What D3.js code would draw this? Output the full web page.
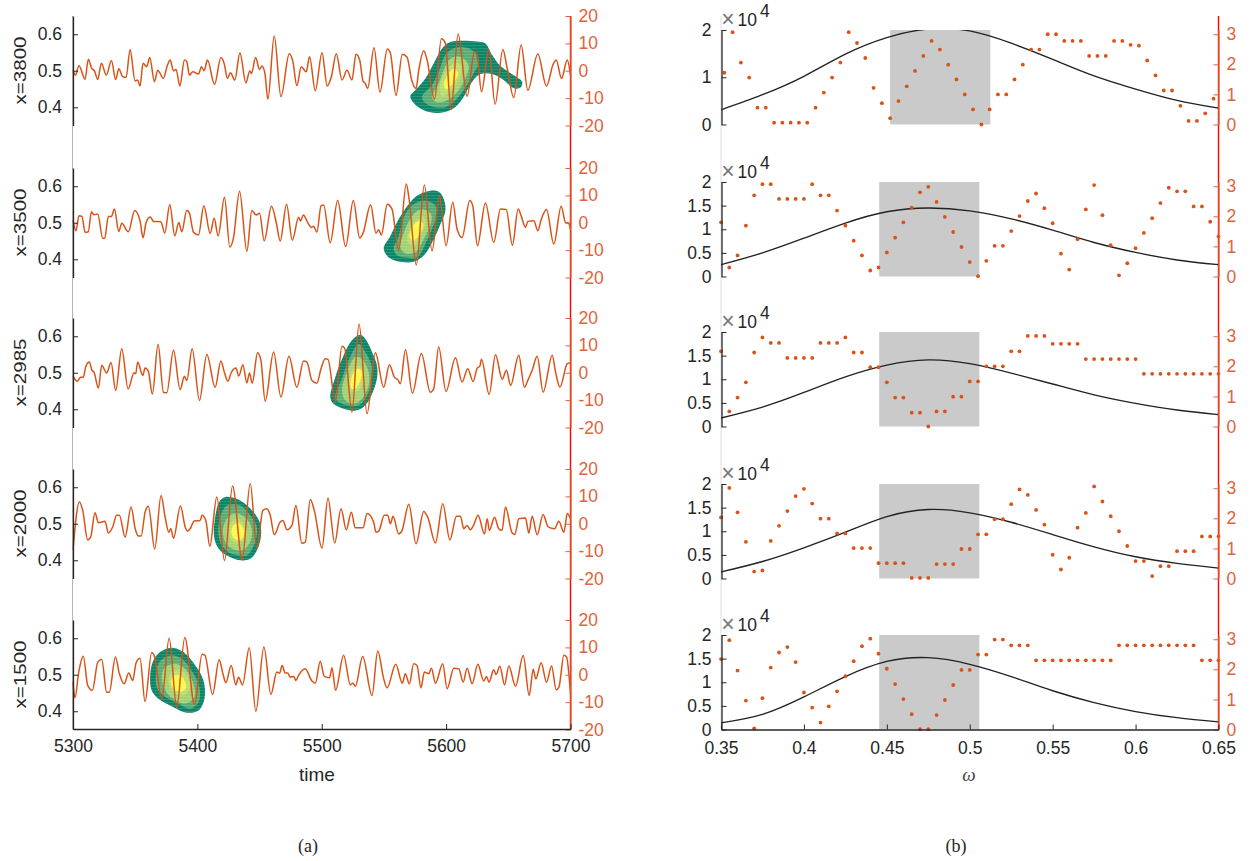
<!DOCTYPE html>
<html><head><meta charset="utf-8">
<script src="https://cdn.jsdelivr.net/npm/d3@7/dist/d3.min.js"></script>
<style>
html,body{margin:0;padding:0;background:#fff}
svg{display:block}
text{font-family:"Liberation Sans",Arial,sans-serif}
</style></head><body>
<svg id="chart" width="1258" height="861"></svg>
<script>
// ---------- (a) signal: time offset from 5300, amplitude ----------
const startTime = 5300;
const sensorLabels = ["x=3800","x=3500","x=2985","x=2000","x=1500"];
const times3800 = [0,1.9,4.8,9.7,12.3,15,17.2,19.9,22.8,26.8,30.9,34.3,36.8,40,42.7,45.9,49.9,52,53.9,56.3,59.3,61.7,65.5,68.1,72.7,75.7,78.1,80.8,82.9,85.9,89.6,91.5,93.6,96.3,100.9,103.3,105.4,108.1,113.8,118.9,121.5,124.2,126.6,130.1,134.2,139,142.2,143.5,146.8,150,151.9,154.3,156.7,161.8,167.2,173.9,176.8,180,183.5,187.5,190.2,194.8,200.2,204.4,207.7,211.7,216.3,220.3,224.3,227.5,230.5,233.2,235,236.9,242,246.8,252.7,255.2,259.7,264.8,268.6,272.3,275.8,278,282,284.7,290.6,296.2,299.4,304,309.6,316.9,322.8,324.9,328.4,334.3,339.4,345.6,349.1,354.4,360.3,365.7,373.7,380.7,386.1,388.5,392.8,397.4,400];
const amps3800 = [0.2,-1.6,1.8,-3.1,4.2,0.9,0,-3.2,2.7,-1.6,3.7,-3.2,0.7,-2.2,-2.4,7.8,-3.7,-3.4,-5.6,2.7,1.5,4.8,-4,0.2,-2.8,1.7,3.9,0,0.5,-5.6,3.9,3.3,-1.6,-0.4,-1.2,1.5,0,3.9,-5,4.8,2.7,-2.8,-0.7,-3.4,6.6,-4.4,0,-1,4.8,0.5,1.7,-1,-10.4,12.7,-9.5,6.2,3.3,-5.5,1.5,-0.4,5.1,-7.3,6.6,-5.6,-2.2,6.2,-3.4,0.2,-3.4,6,3.9,-3.8,-4.6,-6.5,8.4,-7.8,7.9,6.4,-9,6,4.9,-3.4,-6.5,0.2,7.3,3.9,-10.4,11.7,10,-14.2,13.4,-9.3,7,5.7,-7.7,7.8,-12.2,7.8,0.9,-9.8,9.4,-7.1,6.1,-5.6,2.4,3.9,-2.8,3.9,-1.6];
const times3500 = [0,2.4,4.8,7.2,9.7,12.3,14.8,16.9,19.9,23.9,25.5,28.4,30.9,33.3,36.8,39.2,44.5,49.6,53.9,56.3,58.8,62.2,64.7,70.6,73.8,77.8,81.8,85.1,87.5,91.5,93.6,96.9,100.9,105.2,110.3,113.5,116.7,121.8,126.1,129,133.9,139.8,143.8,147.3,150,153.7,159.6,163.4,166.6,171.7,176.3,181.4,183,185.1,189.4,191.6,193.5,196.1,199.4,201.5,206.8,212.8,219.2,225.4,230.5,233.2,239.3,243.6,245.8,247.9,252.7,256.5,261.8,268,270.2,276,282.5,288.7,294.6,300,305.3,308.8,312.8,319,321.4,325.2,331.6,338.3,343.7,348.3,353.3,357.9,360.3,363.8,365.7,370.5,373.7,376.4,380.7,386.6,392.5,396,398.4,400];
const amps3500 = [1,-2.9,2.6,2.3,-3.5,-3.3,4,2.9,3.2,-5.7,-5.7,2.3,2.3,5,-3.2,-0.2,-3.3,4.5,0.7,-5.5,0.1,2.1,0.5,0.4,-3.8,6.7,-4.8,0.1,-3.3,4.6,3.5,-3.5,-4.5,6.2,-3.9,1.6,-4.8,9.3,-8.9,-5.6,11.5,-10.4,4.5,2.8,3.5,-6.6,6,0.1,-6.7,6.8,-6.4,2,0.6,2.8,-0.5,-1.7,-1.3,-3.5,6.2,6.5,-7.3,8.1,-8.7,8.1,-5.6,-3.8,6.6,-3.8,-2.6,-4.5,6.8,5,-10,14.2,8.7,-15.4,13.8,-10.3,9.9,-8.4,7.5,-2.3,-5.4,8.1,6.2,-8.4,7.2,-7.2,5,4.8,-8.2,5,2.6,-1.7,0.5,0.7,-2.9,1.1,4.8,-7.8,6,0.1,-0.1,-2.6];
const times2985 = [0,3.5,6.2,8.3,10.2,13.1,15.3,16.9,20.4,23.1,27.1,30.6,34.3,39.2,44.3,49.1,50.4,52,56.1,57.9,60.6,63.8,68.4,72.7,75.4,80.8,86.1,89.6,91.5,95.8,101.7,107.6,114.3,118.9,121.5,124.5,127.2,131,133.3,136.6,139.8,141.9,144.1,148.4,151.1,154.5,161.3,167.2,173.6,180,185.4,188.1,192.1,196.1,199.4,202.8,205,210.9,216.3,218.4,224.3,230,236.4,243.1,249.8,254.4,258.4,261.3,263.2,267.3,272.9,280.1,287.3,290,294,299.9,307.5,312.8,317.4,321.7,325,327.1,328.4,334.6,339.7,345.1,348.5,351.8,358.4,363,365.7,369.2,373.2,378,385.3,388,391.5,397.4,400];
const amps2985 = [-1.2,-3.1,-1.6,-1.6,2.1,3.9,0.9,0.2,-5.6,2.7,-0.1,3.7,-6.5,8.8,-5.9,0,-0.4,3.9,-1,1.7,0.5,-7.8,10.4,-7.1,-7.3,8.2,-6.2,-1.3,-2.8,8.8,-10.1,6.7,-5.3,4.3,0.5,-3.1,0,1.7,-1.2,2.9,-3.7,-0.1,-3.8,7.3,4.5,-10.4,7.6,-8.9,6,-5.3,4.3,3.9,-2.8,-3.8,1.5,5.1,4.9,-10.5,9.7,9,-14.4,17.8,-15,7.3,-5.3,2.9,-1.6,-2.6,-4,8.4,-7.5,7,-7.1,-5.9,9.4,-6.8,5.5,-3.4,1.5,-3.2,1.7,2.4,4.9,-7.9,6.6,-2.4,0.9,-4.6,6.4,-5.3,-2.8,0.9,6,-7.1,6.4,0.2,-5.3,3.3,3.7];
const times2000 = [0,5.1,7.8,11.8,14.2,17.7,20.4,25.8,28.4,31.9,35.1,37.3,41.9,46.7,50,52.6,54.8,58,60.6,65.7,70.8,74.1,77,78.6,80.8,86.4,90.2,92.1,94.2,97.4,102.2,103.8,106.8,110,115.6,121.8,128.3,136,142.5,147.8,152.7,155.9,158.6,161.8,166.6,168.8,172,176,179.2,184,186.7,190.8,194,200.2,205,210.4,215.5,219.7,223.8,227,233.2,236.4,241.7,243.6,245.8,250.3,253,255.2,257.3,261.9,264.6,270,275.8,282,285.2,291.4,297.3,303,308.3,311.5,314.2,316.9,319.5,322.2,325.7,330.8,333,334.8,338.9,342.3,345,347.7,353.1,355.2,358.5,363.8,366.5,369.2,373.2,378,381.8,384,387.2,390.6,394.7,397.4,400];
const amps2000 = [-9.5,7.9,4.9,-5.9,-4.9,4,0.4,0.9,-3.4,-1.2,3.1,3.1,-4.9,6.1,-1.8,-4.5,-4.5,4.3,6.4,-9.2,10.3,2.4,-3.1,-1.8,-5.3,6.5,-1.2,-2.7,-1.8,1,1.2,3.1,1.2,-8.2,9.8,-13.4,13.8,-13.2,14.7,-8.8,4.9,5.5,3.1,-4,0.6,1.2,-2.2,-0.6,6.7,-7.1,-6.7,8.9,4.9,-8.9,9.4,-7,5.5,-2.2,4.2,-1.5,-1.5,3.7,0.6,-3.1,-2.7,3.1,3.1,0,2.7,-3.7,-2.4,7.1,-7.3,4.5,2.4,-7,7.3,-5.9,2.7,2.7,-1.8,-0.6,-2.2,-0.4,3.1,-3.7,1.8,-2.4,2.4,-1.8,-2.4,6.1,-3.4,-3.9,1.8,2.1,-3.4,2.7,-4,3.4,-1,-1.5,-1.8,0.9,-3.1,3.7,1.8];
const times1500 = [0,1.6,4.6,8.3,11.8,15.6,19.9,23.1,27.1,29.2,34.1,37.3,41.1,44.8,48,50.7,53.9,57.9,63.3,65.2,71.4,77.3,83.4,89.9,97.7,103.8,106,112.2,117.5,120.5,122.9,127.2,130.9,133.1,136.3,141.7,147,153.5,159.1,163.9,166.1,168.2,170.6,172.7,174.7,177.6,179.2,181.4,186.7,192.1,194.8,198.8,202,206.3,208.2,211.1,217.6,223,225.1,227,232.9,240.4,245,249.8,252.5,259.5,264.8,267.2,270.4,273.9,276.6,279.8,282.5,286,288.2,291.4,297.3,300.8,306.2,310.2,313.7,316.9,320.9,325.5,330.2,332.4,334.5,338.3,340.2,343.2,347,350.4,355.8,362,366.8,370,372.1,376.4,380.7,384.8,388.5,390.7,394.7,396.8,400];
const amps1500 = [-2.7,-8.4,1,6.8,-3.9,-5.7,4.6,5.6,-6.4,-6.4,6.5,0.4,-3.3,0.6,-2.1,4.3,6,-9.8,8.1,7.1,-8.8,13.3,-11.9,13.6,-10.9,7.5,7.2,-7.2,5.5,0.4,-2.9,3.4,-3.7,-0.9,-3.7,9.9,-13.3,10.1,-7.2,1,0.6,3.4,0.6,0.6,-0.9,-0.6,-2.1,-0.2,2.2,-2.3,-3.1,4.9,-0.6,-1.1,2.6,-5.7,7.1,-3.7,-3.1,-4.2,6.7,-7.6,8.7,-1.5,-4.8,3.8,-3.1,0.4,-3.3,4,3.4,-4.8,1,0.4,2.4,-3.1,4,-5.1,2.4,2.2,-2.7,2.4,-3.3,3.8,-2.3,-0.6,-2.7,1.8,0.1,3.1,-3.7,3.2,-4.2,7,-7.6,2,-1.5,4.4,-2.7,3.2,-5.5,-4.5,7.1,6.5,-7];
const signalTimes = [times3800,times3500,times2985,times2000,times1500];
const signalAmps = [amps3800,amps3500,amps2985,amps2000,amps1500];

// ---------- (a) ridge contours: [time offset, frequency], outermost level first ----------
const ridge3800 = [
[[271.2,.429],[275.3,.447],[283.3,.479],[290,.52],[296.7,.561],[302.1,.577],[310.1,.582],[324.9,.58],[331.6,.575],[337,.543],[343.7,.513],[354.4,.488],[361.1,.47],[359.8,.454],[354.4,.452],[346.4,.474],[337,.491],[327.6,.491],[320.9,.47],[314.2,.429],[307.5,.401],[298.1,.386],[287.3,.386],[276.6,.403]],
[[280.6,.429],[288.7,.461],[294,.497],[299.4,.543],[306.1,.561],[316.9,.563],[324.9,.543],[326.2,.52],[322.2,.493],[316.9,.461],[308.8,.424],[299.4,.4],[290,.401],[283.3,.411]],
[[288.7,.429],[294,.465],[298,.502],[302.1,.529],[308.8,.54],[315.5,.529],[318.2,.511],[314.2,.47],[307.5,.436],[298.1,.415],[291.4,.415]],
[[294.9,.456],[299.4,.497],[306.1,.52],[312,.516],[311.5,.484],[304.8,.447],[296.7,.429]],
[[298.1,.461],[302.1,.493],[306.7,.506],[309.6,.491],[304.8,.463],[300.2,.449]]];
const ridge3500 = [
[[249.8,.43],[255.2,.464],[261.9,.51],[269.9,.551],[276.6,.574],[287.3,.588],[294.1,.585],[298.1,.565],[299.4,.533],[295.4,.496],[288.7,.446],[282,.41],[273.9,.393],[263.2,.393],[253.8,.405]],
[[257.8,.428],[261.9,.464],[267.2,.524],[273.9,.551],[283.3,.56],[291.4,.547],[292.8,.524],[288.7,.483],[283.3,.442],[276.6,.405],[267.2,.405],[260.5,.411]],
[[263.2,.432],[267.2,.483],[273.9,.524],[280.6,.537],[287.9,.524],[287.9,.501],[282,.455],[275.3,.419],[267.2,.416]],
[[268.6,.451],[271.2,.483],[276.6,.51],[282,.515],[283.3,.496],[279.3,.464],[273.9,.437]],
[[270.7,.46],[273.4,.492],[278,.504],[281.5,.496],[278.8,.469],[274,.451]]];
const ridge2985 = [
[[206.9,.433],[210.9,.488],[216.3,.538],[224.3,.589],[231,.604],[235,.593],[240.4,.557],[244.4,.52],[244.4,.484],[240.4,.442],[235,.411],[228.3,.397],[218.9,.4],[209.5,.415]],
[[210.9,.433],[216.3,.484],[221.6,.534],[229.7,.579],[235,.557],[240.4,.516],[240.4,.479],[236.4,.438],[229.7,.411],[220.3,.411],[213.6,.42]],
[[216.3,.452],[220.3,.502],[227,.543],[232.4,.538],[237.7,.502],[237.7,.465],[232.4,.429],[225.6,.415],[218.9,.424]],
[[221.1,.465],[223.8,.502],[228.3,.52],[233.7,.506],[233.7,.479],[229.7,.452],[224.3,.447]],
[[223,.467],[225.1,.497],[228.9,.511],[232.4,.502],[231,.479],[227.8,.459],[224.3,.456]]];
const ridge2000 = [
[[113.5,.463],[114.3,.518],[117.5,.559],[122.3,.573],[134.4,.564],[143.8,.537],[150.5,.5],[151,.463],[147.8,.427],[142.5,.404],[134.4,.4],[123.7,.413],[117,.432]],
[[117,.468],[118.3,.518],[123.7,.55],[134.4,.55],[142.5,.523],[147.8,.491],[146.5,.45],[139.8,.413],[133.1,.413],[125,.422],[119.7,.441]],
[[120.5,.482],[123.7,.514],[130.4,.529],[138.4,.518],[143.8,.486],[142.5,.45],[135.8,.427],[127.7,.432],[122.3,.45]],
[[124.3,.477],[126.4,.5],[131.7,.514],[137.1,.5],[139.8,.477],[137.1,.454],[130.4,.447],[126.4,.459]],
[[127.2,.477],[129,.495],[133.1,.502],[137.1,.486],[137.6,.468],[134.4,.456],[129.6,.459]]];
const ridge1500 = [
[[62,.494],[64.1,.535],[70,.562],[79.4,.574],[88.8,.562],[98.2,.526],[104.9,.484],[105.7,.434],[100.9,.402],[91.5,.396],[80.8,.411],[68.7,.434],[63.3,.457]],
[[66.8,.503],[69.5,.535],[78.1,.553],[87.5,.544],[96.9,.503],[101.7,.466],[100.9,.425],[94.2,.407],[84.4,.421],[72.7,.443],[67.3,.466]],
[[71.4,.494],[74.1,.521],[82.2,.53],[90.2,.516],[96.9,.475],[97.7,.439],[90.2,.421],[80.8,.434],[74.1,.457]],
[[76.7,.484],[79.4,.507],[86.1,.512],[92.9,.489],[94.2,.462],[88.8,.443],[80.8,.453]],
[[78.6,.48],[81.3,.498],[86.1,.498],[90.2,.48],[90.7,.462],[86.1,.453],[81.3,.462]]];
const ridges = [ridge3800,ridge3500,ridge2985,ridge2000,ridge1500];
const levelColors = ["#0b8568","#58ac76","#a3d272","#bddc6e","#fdf84a"];

// ---------- (b) spectra ----------
const omegaStart = [0.352,0.35,0.35,0.35,0.35];
const phase1 = [1.72,3.07,2.06,1.56,.56,.56,.06,.06,.06,.06,.06,.56,1.06,1.56,2.06,3.07,2.71,2.21,1.22,.71,.21,.78,1.27,1.78,2.28,2.78,2.49,1.99,1.5,1,.5,0,.5,1,1,1.5,1.99,2.49,2.49,3,3,2.78,2.78,2.78,2.28,2.28,2.28,2.78,2.78,2.65,2.62,2.13,1.63,1.13,1.13,.62,.12,.12,.37,.86];
const phase2 = [1.8,.3,.7,1.69,2.7,3.07,3.07,2.58,2.58,2.58,2.58,3.07,2.7,2.7,2.19,1.69,1.19,.7,.2,.3,.8,1.29,1.8,2.29,2.8,2.98,2.48,1.98,1.48,.98,.48,.01,.52,1.02,1.02,1.51,2.01,2.51,2.76,2.27,1.77,.76,.23,1.24,2.23,3.04,2.04,1.04,.04,.44,.94,1.45,1.94,2.44,2.95,2.83,2.83,2.33,2.33,1.82,1.33];
const phase3 = [2.5,.5,.96,1.47,2.46,2.96,2.78,2.78,2.28,2.28,2.28,2.28,2.78,2.78,2.78,2.96,2.46,2.46,1.97,1.97,1.47,.96,.96,.46,.46,0,.5,.5,.99,.99,1.5,1.5,2,2,2,2.5,2.5,3.01,3.01,3.01,2.75,2.75,2.75,2.75,2.24,2.24,2.24,2.24,2.24,2.24,2.24,1.75,1.75,1.75,1.75,1.75,1.75,1.75,1.75,1.75,1.75];
const phase4 = [2.03,3.01,2.2,1.22,.23,.27,1.25,1.75,2.24,2.74,2.98,2.49,1.99,1.99,1.5,1.5,1.01,1.01,1.01,.51,.51,.51,.51,.02,.02,.02,.48,.48,.48,.98,.98,1.47,1.47,1.97,1.97,2.47,2.96,2.78,2.28,1.79,.79,.3,.69,1.69,2.18,3.06,2.56,2.07,1.57,1.08,.58,.58,.08,.41,.41,.91,.91,.91,1.4,1.4,1.4];
const phase5 = [2.34,2.97,1.96,.96,.04,1.04,2.06,2.56,2.74,2.24,1.23,.73,.23,.77,1.27,1.77,2.27,2.77,3.02,2.52,2.02,1.51,1.01,.51,.01,.01,.48,.98,1.48,1.98,1.98,2.49,2.49,2.99,2.99,2.8,2.8,2.8,2.3,2.3,2.3,2.3,2.3,2.3,2.3,2.3,2.3,2.3,2.8,2.8,2.8,2.8,2.8,2.8,2.8,2.8,2.8,2.8,2.3,2.3,2.3];
const phases = [phase1,phase2,phase3,phase4,phase5];
const bandStart = [0.452,0.4454,0.4454,0.4454,0.4454];
const bandEnd = [0.5124,0.5058,0.5058,0.5058,0.5058];
const gridOmega = [.35,.375,.4,.425,.45,.475,.5,.525,.55,.575,.6,.625,.65];
const power1 = [.31,.63,1.02,1.49,1.84,2.02,1.98,1.72,1.38,1.03,.75,.51,.345];
const power2 = [.25,.5,.81,1.13,1.37,1.45,1.39,1.22,.98,.72,.51,.35,.25];
const power3 = [.18,.41,.72,1.05,1.3,1.41,1.33,1.13,.9,.67,.49,.35,.25];
const power4 = [.14,.36,.65,.98,1.31,1.46,1.39,1.19,.93,.67,.46,.32,.22];
const power5 = [.14,.32,.69,1.12,1.44,1.52,1.38,1.12,.82,.57,.38,.25,.16];
const powers = [power1,power2,power3,power4,power5];
const powerTicks = [[0,1,2],[0,.5,1,1.5,2],[0,.5,1,1.5,2],[0,.5,1,1.5,2],[0,.5,1,1.5,2]];
const phaseTicks = [0,1,2,3];
const freqTicks = [.4,.5,.6];
const ampTicks = [-20,-10,0,10,20];
const timeTicks = [5300,5400,5500,5600,5700];
const omegaTicks = [.35,.4,.45,.5,.55,.6,.65];

// ---------- layout ----------
const leftTops = [16,168,318,469,620];
const rightTops = [30,182,332,484,635];
const leftH = 109.5, rightH = 94.5;
const INK = "#262626", ORANGE = "#d95319", AXISO = "#e2633a";
const FS = "17.5px";
const svg = d3.select("#chart");
const x = d3.scaleLinear().domain([5300,5700]).range([73,570.5]);
const w = d3.scaleLinear().domain([.35,.65]).range([721,1218.5]);

const defs = svg.append("defs");
const pat = defs.append("pattern").attr("id","stripes").attr("patternUnits","userSpaceOnUse").attr("width",4).attr("height",3);
pat.append("rect").attr("width",4).attr("height",.8).attr("fill","#fff").attr("opacity",.16);

function styleAxis(g,color,size){
  g.selectAll("path.domain").attr("stroke",color).attr("stroke-width",1.3);
  g.selectAll(".tick line").attr("stroke",color).attr("stroke-width",1);
  g.selectAll("text").attr("fill",color).style("font-size",size||FS).attr("font-family","Liberation Sans");
}
const fmt = d=>String(d);

// full-height underlying axis lines
svg.append("line").attr("x1",72.5).attr("x2",72.5).attr("y1",16).attr("y2",729).attr("stroke","#b4b4b4");
svg.append("line").attr("x1",570.5).attr("x2",570.5).attr("y1",16).attr("y2",729).attr("stroke","#ff0000").attr("stroke-width",1.4);
svg.append("line").attr("x1",721).attr("x2",721).attr("y1",16).attr("y2",729).attr("stroke","#dcdcdc");
svg.append("line").attr("x1",1218.5).attr("x2",1218.5).attr("y1",16).attr("y2",729).attr("stroke","#ff0000").attr("stroke-width",1.4);

// ---------- panel (a) ----------
sensorLabels.forEach((label,i)=>{
  const top = leftTops[i];
  const yF = d3.scaleLinear().domain([.35,.65]).range([top+leftH,top]);
  const yA = d3.scaleLinear().domain([-20,20]).range([top+leftH,top]);
  const blob = d3.line().x(d=>x(startTime+d[0])).y(d=>yF(d[1])).curve(d3.curveCatmullRomClosed.alpha(.5));
  const g = svg.append("g");
  g.selectAll("path.level").data(ridges[i]).join("path").attr("class","level")
    .attr("d",blob).attr("fill",(d,k)=>levelColors[k]);
  g.append("path").attr("d",blob(ridges[i][0])).attr("fill","url(#stripes)");
  const pts = d3.zip(signalTimes[i],signalAmps[i]);
  const line = d3.line().x(d=>x(startTime+d[0])).y(d=>yA(d[1])).curve(d3.curveMonotoneX);
  g.append("path").attr("d",line(pts)).attr("fill","none").attr("stroke",ORANGE).attr("stroke-width",1.5);

  const la = svg.append("g").attr("transform","translate(73,0)")
    .call(d3.axisLeft(yF).tickValues(freqTicks).tickSize(-5).tickSizeOuter(0).tickPadding(11).tickFormat(d3.format(".1f")));
  styleAxis(la,INK);
  const ra = svg.append("g").attr("transform","translate(570.5,0)")
    .call(d3.axisRight(yA).tickValues(ampTicks).tickSize(-5).tickSizeOuter(0).tickPadding(8).tickFormat(fmt));
  styleAxis(ra,AXISO);
  svg.append("text").attr("transform",`translate(26,${top+54.5}) rotate(-90)`)
    .attr("text-anchor","middle").attr("fill",INK).style("font-size","17px")
    .attr("textLength",68).attr("lengthAdjust","spacingAndGlyphs").text(label);
});
const xa = svg.append("g").attr("transform","translate(0,729)")
  .call(d3.axisBottom(x).tickValues(timeTicks).tickSize(-5).tickSizeOuter(0).tickPadding(11).tickFormat(fmt));
styleAxis(xa,INK);
svg.append("text").attr("x",317).attr("y",781).attr("text-anchor","middle").attr("fill",INK).style("font-size","19px").text("time");

// ---------- panel (b) ----------
phases.forEach((ph,i)=>{
  const top = rightTops[i];
  const yP = d3.scaleLinear().domain([0,2]).range([top+rightH,top]);
  const yT = d3.scaleLinear().domain([0,Math.PI]).range([top+rightH,top]);
  const clipId = "clip"+i;
  defs.append("clipPath").attr("id",clipId).append("rect")
    .attr("x",721).attr("y",top).attr("width",498).attr("height",rightH);
  svg.append("rect").attr("x",w(bandStart[i])).attr("y",top)
    .attr("width",w(bandEnd[i])-w(bandStart[i])).attr("height",rightH).attr("fill","#cacaca");
  const spectrum = d3.line().x(d=>w(d[0])).y(d=>yP(d[1])).curve(d3.curveNatural);
  svg.append("path").attr("d",spectrum(d3.zip(gridOmega,powers[i]))).attr("fill","none")
    .attr("stroke","#222").attr("stroke-width",1.35).attr("clip-path",`url(#${clipId})`);
  svg.append("g").selectAll("circle").data(ph).join("circle")
    .attr("cx",(d,k)=>w(omegaStart[i]+k*.005)).attr("cy",d=>yT(d)).attr("r",1.9).attr("fill",ORANGE);
  const la = svg.append("g").attr("transform","translate(721.5,0)")
    .call(d3.axisLeft(yP).tickValues(powerTicks[i]).tickSize(-5).tickSizeOuter(0).tickPadding(10).tickFormat(fmt));
  styleAxis(la,INK);
  const ra = svg.append("g").attr("transform","translate(1218.5,0)")
    .call(d3.axisRight(yT).tickValues(phaseTicks).tickSize(-5).tickSizeOuter(0).tickPadding(8).tickFormat(fmt));
  styleAxis(ra,AXISO);
  svg.append("text").attr("x",728).attr("y",top-3).attr("text-anchor","middle").attr("fill","#777").style("font-size","23px").text("×");
  svg.append("text").attr("x",737.5).attr("y",top-4).attr("fill",INK).style("font-size","17.5px").text("10");
  svg.append("text").attr("x",760).attr("y",top-13).attr("fill",INK).style("font-size","17.5px").text("4");
});
const xb = svg.append("g").attr("transform","translate(0,729.5)")
  .call(d3.axisBottom(w).tickValues(omegaTicks).tickSize(-5).tickSizeOuter(0).tickPadding(12).tickFormat(fmt));
styleAxis(xb,INK);
svg.append("text").attr("x",969).attr("y",781).attr("text-anchor","middle").attr("fill","#444")
  .style("font-family","Liberation Serif").style("font-style","italic").style("font-size","19px").text("ω");

svg.append("text").attr("x",308).attr("y",852).attr("text-anchor","middle").attr("fill",INK)
  .style("font-family","Liberation Serif").style("font-size","18px").text("(a)");
svg.append("text").attr("x",956).attr("y",852).attr("text-anchor","middle").attr("fill",INK)
  .style("font-family","Liberation Serif").style("font-size","18px").text("(b)");
</script>
</body></html>
